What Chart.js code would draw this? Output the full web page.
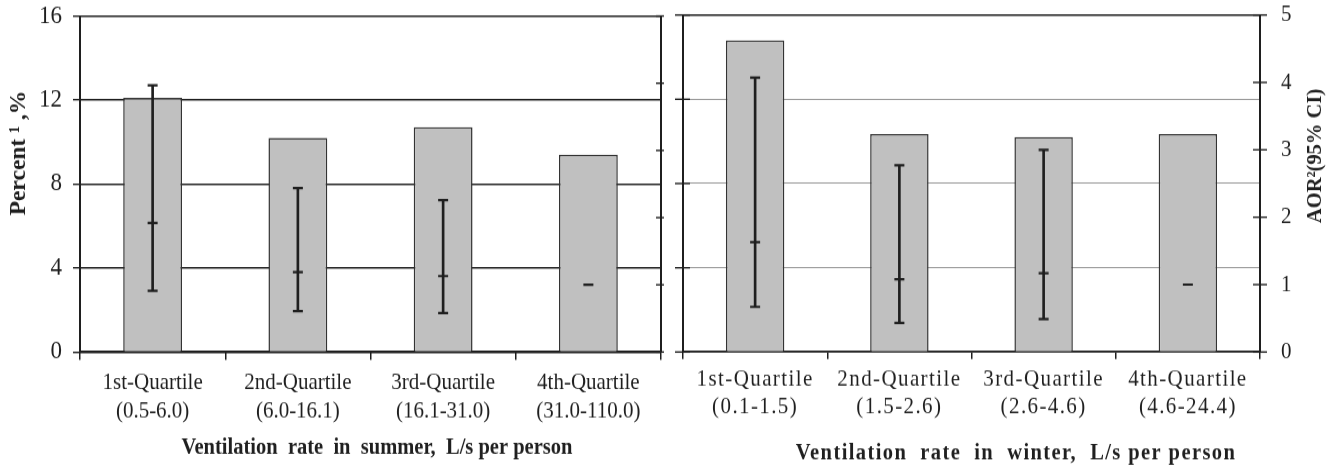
<!DOCTYPE html>
<html>
<head>
<meta charset="utf-8">
<script src="https://cdn.jsdelivr.net/npm/chart.js@4.4.0/dist/chart.umd.min.js"></script>
<style>
  body { margin: 0; background: #fff; }
  #wrap { position: relative; width: 1330px; height: 467px; }
  #summerChart { position: absolute; left: 0; top: 0; }
  #winterChart { position: absolute; left: 670px; top: 0; }
</style>
</head>
<body>
<div id="wrap">
  <canvas id="summerChart" width="670" height="425" style="width:670px;height:467px"></canvas>
  <canvas id="winterChart" width="660" height="425" style="width:660px;height:467px"></canvas>
</div>
<script>
// Summer panel
const summerLabels = [
  ['1st-Quartile', '(0.5-6.0)'],
  ['2nd-Quartile', '(6.0-16.1)'],
  ['3rd-Quartile', '(16.1-31.0)'],
  ['4th-Quartile', '(31.0-110.0)']
];
const summerPercent = [12.1, 10.2, 10.7, 9.4];
const summerAor = [1.92, 1.19, 1.13, 1.0];
const summerCiLow = [0.91, 0.61, 0.58, null];
const summerCiHigh = [3.97, 2.44, 2.26, null];

// Winter panel
const winterLabels = [
  ['1st-Quartile', '(0.1-1.5)'],
  ['2nd-Quartile', '(1.5-2.6)'],
  ['3rd-Quartile', '(2.6-4.6)'],
  ['4th-Quartile', '(4.6-24.4)']
];
const winterPercent = [14.8, 10.35, 10.2, 10.35];
const winterAor = [1.63, 1.08, 1.17, 1.0];
const winterCiLow = [0.67, 0.43, 0.49, null];
const winterCiHigh = [4.07, 2.77, 3.0, null];

const percentTicks = { min: 0, max: 16, step: 4 };
const aorTicks = { min: 0, max: 5, step: 1 };

const ink = '#1f1f1f';
const family = "'Liberation Serif', 'Times New Roman', serif";
Chart.defaults.font.family = family;
Chart.defaults.color = ink;

// the original figure's text is a bit taller than wide, so the canvases are
// drawn 425px high and shown 467px high; vertical layout numbers are divided by this
const stretch = 467 / 425;
const v = px => px / stretch;

// free / rotated axis titles (drawn without the vertical stretch)
const axisTitles = {
  id: 'axisTitles',
  afterDraw(chart, args, opts) {
    const ctx = chart.ctx;
    (opts.items || []).forEach(t => {
      ctx.save();
      ctx.translate(t.x, v(t.y));
      if (t.rotation) {
        ctx.scale(1, 1 / stretch);
        ctx.rotate(t.rotation);
      }
      ctx.font = 'bold ' + t.size + 'px ' + family;
      ctx.letterSpacing = t.spacing || '0px';
      ctx.fillStyle = ink;
      ctx.textAlign = 'center';
      ctx.textBaseline = 'middle';
      ctx.fillText(t.text, 0, 0);
      ctx.restore();
    });
  }
};

// tick marks that cross the axis line
const crossTicks = {
  id: 'crossTicks',
  afterDraw(chart, args, opts) {
    const ctx = chart.ctx;
    Object.entries(opts.scales || {}).forEach(([id, len]) => {
      const scale = chart.scales[id];
      const left = scale.position === 'left';
      const x0 = left ? scale.right : scale.left;
      ctx.save();
      ctx.strokeStyle = ink;
      ctx.lineWidth = 1.4;
      scale.ticks.forEach(tick => {
        const y = scale.getPixelForValue(tick.value);
        ctx.beginPath();
        if (left) {
          ctx.moveTo(x0 - len[1], y);
          ctx.lineTo(x0 + len[0], y);
        } else {
          ctx.moveTo(x0 - len[0], y);
          ctx.lineTo(x0 + len[1], y);
        }
        ctx.stroke();
      });
      ctx.restore();
    });
  }
};

// letter spacing for the wider winter panel text
const spacing = {
  id: 'spacing',
  beforeDraw(chart, args, opts) {
    chart.ctx.letterSpacing = opts.value || '0px';
  }
};

// fixed axis size, no extra room for the end labels
function fixSize(w, h) {
  return s => {
    if (w !== null) s.width = w;
    if (h !== null) s.height = h;
    s.paddingTop = 0;
    s.paddingBottom = 0;
    s.paddingLeft = 0;
    s.paddingRight = 0;
  };
}

function capDataset(values) {
  return {
    type: 'line',
    data: values,
    yAxisID: 'yAor',
    showLine: false,
    pointStyle: 'line',
    pointRadius: 5,
    pointHoverRadius: 5,
    borderColor: ink,
    borderWidth: 2.2,
    order: 1
  };
}

function buildDatasets(percent, aor, lo, hi) {
  return [
    {
      type: 'bar',
      data: percent,
      yAxisID: 'y',
      backgroundColor: '#c0c0c0',
      borderColor: '#333',
      borderWidth: 1.5,
      barPercentage: 0.405,
      categoryPercentage: 1,
      grouped: false,
      order: 3
    },
    {
      type: 'bar',
      data: lo.map((val, i) => val === null ? null : [val, hi[i]]),
      yAxisID: 'yAor',
      backgroundColor: ink,
      borderWidth: 0,
      barThickness: 2,
      grouped: false,
      order: 2
    },
    capDataset(lo),
    capDataset(hi),
    capDataset(aor)
  ];
}

new Chart(document.getElementById('summerChart'), {
  type: 'bar',
  data: {
    labels: summerLabels,
    datasets: buildDatasets(summerPercent, summerAor, summerCiLow, summerCiHigh)
  },
  options: {
    responsive: false,
    devicePixelRatio: 1,
    animation: false,
    layout: { padding: { left: 0, right: 0, top: v(16), bottom: 0 } },
    plugins: {
      legend: { display: false },
      tooltip: { enabled: false },
      crossTicks: { scales: { yAor: [5, 3] } },
      axisTitles: {
        items: [
          { text: 'Percent \u00b9 ,%', x: 19, y: 153, rotation: -Math.PI / 2, size: 23.5 },
          { text: 'Ventilation  rate  in  summer,  L/s per person', x: 377, y: 448, size: 20.5 }
        ]
      }
    },
    scales: {
      x: {
        offset: true,
        grid: { offset: true, drawOnChartArea: false, tickLength: v(8), color: ink, lineWidth: 1.5 },
        border: { display: true, color: ink, width: 1.8 },
        ticks: { color: ink, font: { size: 21, lineHeight: v(29) / 21 }, padding: 7.5, maxRotation: 0, autoSkip: false },
        afterFit: fixSize(null, 425 - v(352))
      },
      y: {
        position: 'left',
        min: percentTicks.min,
        max: percentTicks.max,
        ticks: { stepSize: percentTicks.step, color: ink, font: { size: 23 }, padding: 11 },
        grid: { color: ink, lineWidth: 1.4, tickLength: 7 },
        border: { display: true, color: ink, width: 2 },
        afterFit: fixSize(80, null)
      },
      yAor: {
        position: 'right',
        min: aorTicks.min,
        max: aorTicks.max,
        ticks: { stepSize: aorTicks.step, display: false },
        grid: { drawOnChartArea: false, drawTicks: false },
        border: { display: true, color: ink, width: 2 },
        afterFit: fixSize(9, null)
      }
    }
  },
  plugins: [crossTicks, axisTitles]
});

new Chart(document.getElementById('winterChart'), {
  type: 'bar',
  data: {
    labels: winterLabels,
    datasets: buildDatasets(winterPercent, winterAor, winterCiLow, winterCiHigh)
  },
  options: {
    responsive: false,
    devicePixelRatio: 1,
    animation: false,
    layout: { padding: { left: 0, right: 0, top: v(15), bottom: 0 } },
    plugins: {
      legend: { display: false },
      tooltip: { enabled: false },
      spacing: { value: '1.4px' },
      crossTicks: { scales: { y: [7, 8], yAor: [7, 7] } },
      axisTitles: {
        items: [
          { text: 'AOR\u00b2(95% CI)', x: 646, y: 156, rotation: -Math.PI / 2, size: 20.5 },
          { text: 'Ventilation  rate  in  winter,  L/s per person', x: 346, y: 453, size: 20.5, spacing: '1.4px' }
        ]
      }
    },
    scales: {
      x: {
        offset: true,
        grid: { offset: true, drawOnChartArea: false, tickLength: v(7), color: ink, lineWidth: 1.5 },
        border: { display: true, color: ink, width: 1.8 },
        ticks: { color: ink, font: { size: 21, lineHeight: v(27) / 21 }, padding: 6.8, maxRotation: 0, autoSkip: false },
        afterFit: fixSize(null, 425 - v(352))
      },
      y: {
        position: 'left',
        min: percentTicks.min,
        max: percentTicks.max,
        ticks: { stepSize: percentTicks.step, display: false },
        grid: {
          drawTicks: false,
          color: c => c.tick && c.tick.value === percentTicks.max ? ink : '#9a9a9a',
          lineWidth: c => c.tick && c.tick.value === percentTicks.max ? 1.4 : 1
        },
        border: { display: true, color: ink, width: 2 },
        afterFit: fixSize(13, null)
      },
      yAor: {
        position: 'right',
        min: aorTicks.min,
        max: aorTicks.max,
        ticks: { stepSize: aorTicks.step, color: ink, font: { size: 21 }, padding: 21 },
        grid: { drawOnChartArea: false, drawTicks: false },
        border: { display: true, color: ink, width: 2 },
        afterFit: fixSize(70, null)
      }
    }
  },
  plugins: [spacing, crossTicks, axisTitles]
});
</script>
</body>
</html>
